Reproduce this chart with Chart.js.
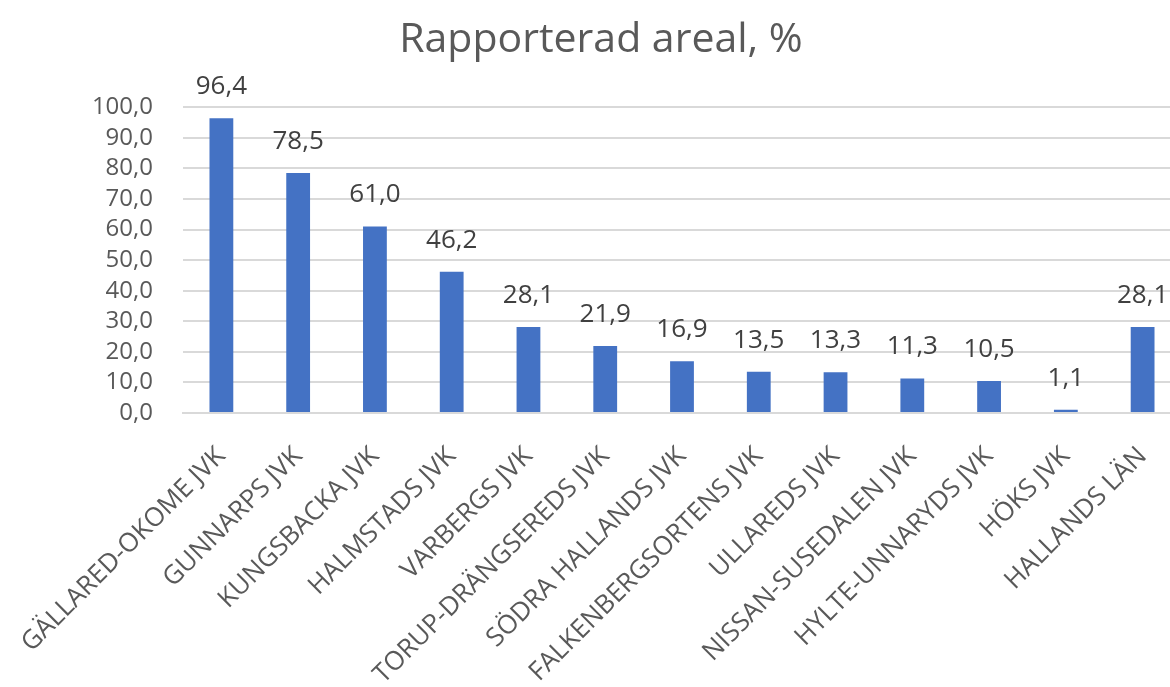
<!DOCTYPE html>
<html>
<head>
<meta charset="utf-8">
<script src="https://cdn.jsdelivr.net/npm/chart.js@4.4.1/dist/chart.umd.min.js"></script>
<style>
html,body{margin:0;padding:0;background:#fff;overflow:hidden;}
#wrap{width:1181px;height:687px;position:relative;}
</style>
</head>
<body>
<div id="wrap"><canvas id="c"></canvas></div>
<script>
const categories = ["GÄLLARED-OKOME JVK","GUNNARPS JVK","KUNGSBACKA JVK","HALMSTADS JVK","VARBERGS JVK","TORUP-DRÄNGSEREDS JVK","SÖDRA HALLANDS JVK","FALKENBERGSORTENS JVK","ULLAREDS JVK","NISSAN-SUSEDALEN JVK","HYLTE-UNNARYDS JVK","HÖKS JVK","HALLANDS LÄN"];
const values = [96.4,78.5,61.0,46.2,28.1,21.9,16.9,13.5,13.3,11.3,10.5,1.1,28.1];
const titleText = "Rapporterad areal, %";

const fmt = v => v.toFixed(1).replace('.', ',');
const FONT = "'Open Sans', 'Noto Sans', sans-serif";

const labelPlugin = {
  id: 'vlabels',
  afterDatasetsDraw(chart) {
    const ctx = chart.ctx;
    const meta = chart.getDatasetMeta(0);
    ctx.save();
    ctx.font = "26px " + FONT;
    ctx.fillStyle = "#404040";
    ctx.textAlign = "center";
    ctx.textBaseline = "alphabetic";
    meta.data.forEach((bar, i) => {
      ctx.fillText(fmt(values[i]), bar.x, bar.y - 24);
    });
    ctx.restore();
  }
};

new Chart(document.getElementById('c'), {
  type: 'bar',
  data: {
    labels: categories,
    datasets: [{
      data: values,
      backgroundColor: '#4472C4',
      borderWidth: 0,
      barPercentage: 0.31,
      categoryPercentage: 1.0
    }]
  },
  options: {
    responsive: true,
    maintainAspectRatio: false,
    animation: false,
    layout: { padding: { left: 21, right: 0, top: 0, bottom: 0 } },
    plugins: {
      legend: { display: false },
      tooltip: { enabled: false },
      title: {
        display: true,
        text: titleText,
        color: '#595959',
        font: { family: FONT, size: 41, weight: 'normal' },
        padding: { top: 16, bottom: 42 }
      }
    },
    scales: {
      x: {
        grid: { display: false, drawTicks: false },
        border: { display: true, color: '#d9d9d9', width: 2 },
        afterFit: s => { s.height = 274; s.paddingLeft = 0; s.paddingRight = 0; },
        ticks: {
          color: '#595959',
          font: { family: FONT, size: 26 },
          maxRotation: 45,
          minRotation: 45,
          autoSkip: false,
          padding: 28
        }
      },
      y: {
        min: 0,
        max: 100,
        afterFit: s => { s.width = 162; },
        grid: { color: '#d9d9d9', lineWidth: 2, drawTicks: false },
        border: { display: false },
        ticks: {
          stepSize: 10,
          autoSkip: false,
          color: '#595959',
          font: { family: FONT, size: 24 },
          padding: 30,
          callback: v => fmt(v)
        }
      }
    }
  },
  plugins: [labelPlugin]
});
</script>
</body>
</html>
